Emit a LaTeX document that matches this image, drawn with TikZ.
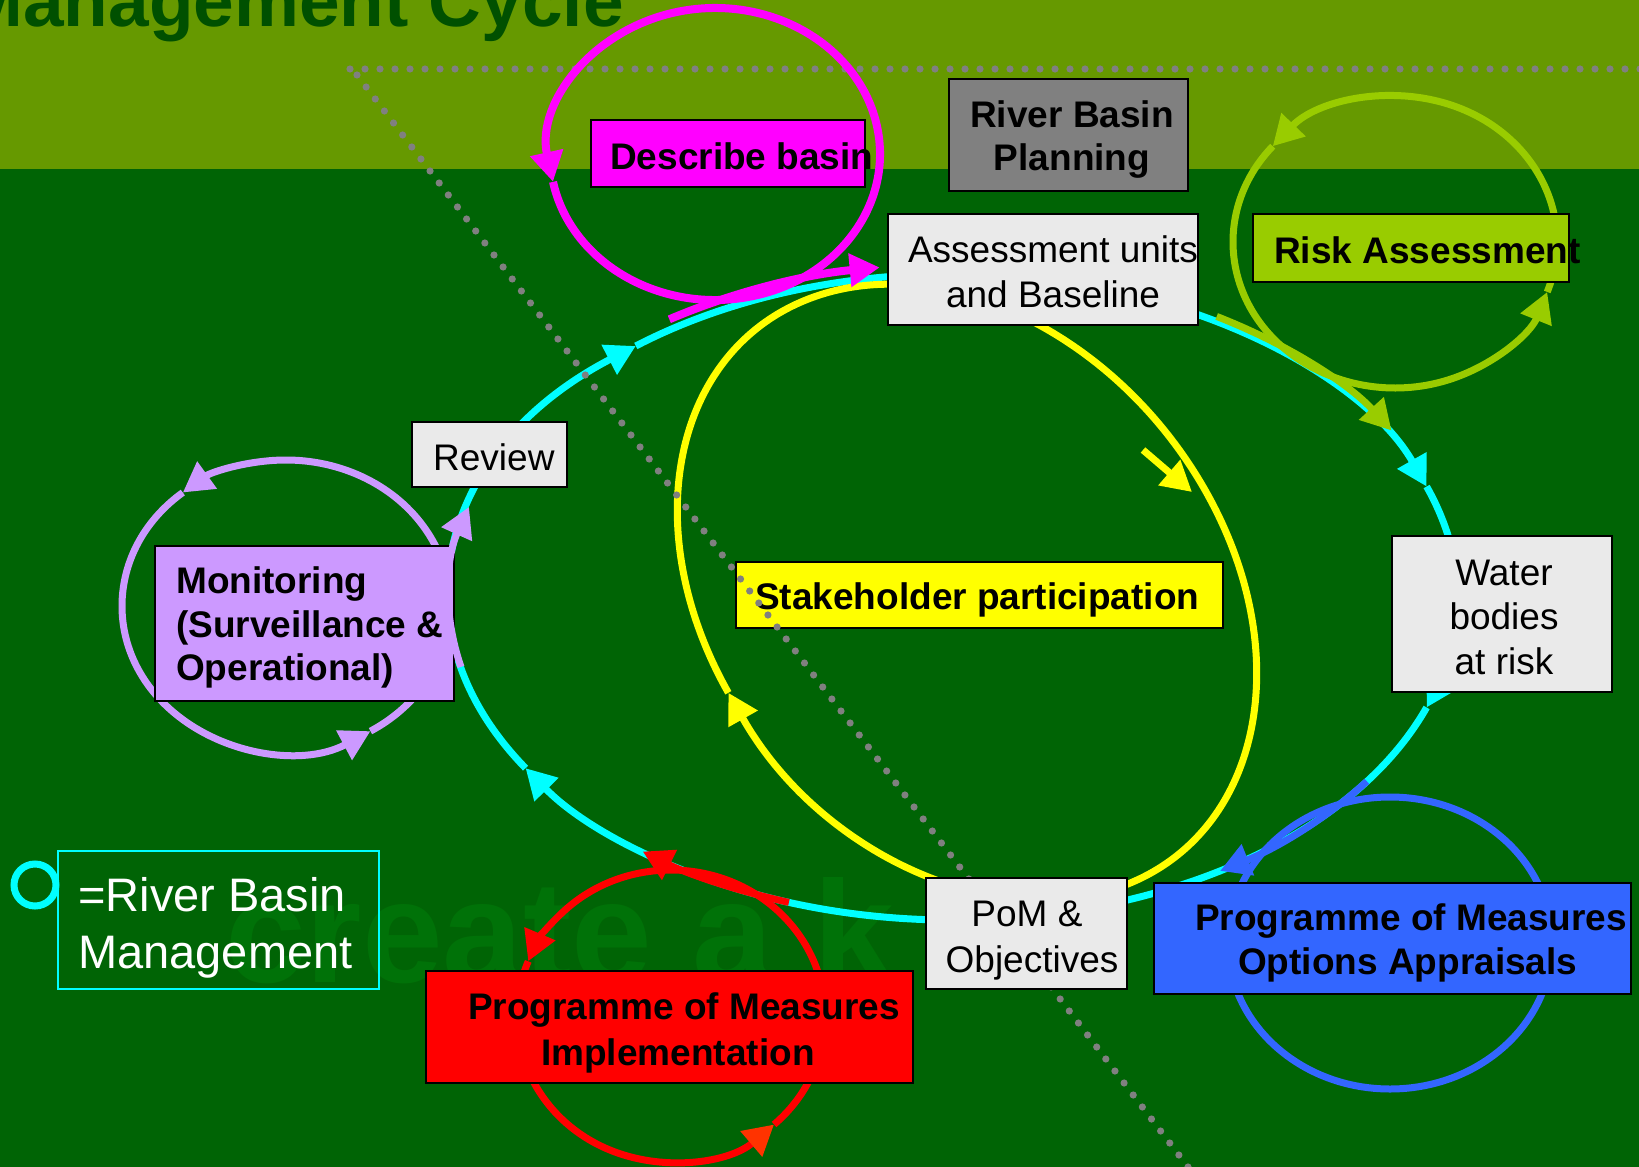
\documentclass[tikz,border=0pt]{standalone}
\usepackage{fontspec}
\setmainfont{Liberation Sans}
\usetikzlibrary{arrows.meta}
\definecolor{bgdark}{RGB}{0,100,5}
\definecolor{bgtop}{RGB}{102,153,0}
\definecolor{titlegreen}{RGB}{0,80,0}
\definecolor{wmgreen}{RGB}{0,114,8}
\definecolor{cyanc}{RGB}{0,255,255}
\definecolor{magc}{RGB}{255,0,255}
\definecolor{yelc}{RGB}{255,255,0}
\definecolor{purc}{RGB}{204,153,255}
\definecolor{redc}{RGB}{255,0,0}
\definecolor{orc}{RGB}{255,51,0}
\definecolor{grnc}{RGB}{153,204,0}
\definecolor{bluec}{RGB}{51,102,255}
\definecolor{lgrey}{RGB}{234,234,234}
\definecolor{mgrey}{RGB}{128,128,128}
\newcommand\loopseg[6]{\draw[#1] (#2) ++(#5:#3pt and #4pt) arc[start angle=#5,end angle=#6,x radius=#3pt,y radius=#4pt];}
\tikzset{
 loopline/.style={line width=7pt},
 tipend/.style={-{Triangle[length=30pt,width=32pt]}},
 box/.style={draw=black, line width=1.8pt, inner sep=0pt, anchor=north west},
 reg/.style={font=\fontsize{37}{44}\selectfont, inner sep=0pt, text=black},
 bld/.style={font=\fontsize{37}{44}\selectfont\bfseries, inner sep=0pt, text=black},
 dotmark/.style={fill=mgrey},
}
\begin{document}
\begin{tikzpicture}[x=1pt,y=-1pt]
\useasboundingbox (0,0) rectangle (1639,1167);
\fill[bgdark] (0,0) rectangle (1639,1167);
\fill[bgtop] (0,0) rectangle (1639,169);
\node[font=\fontsize{73}{80}\selectfont\bfseries, text=titlegreen, inner sep=0pt, anchor=base east] (title) at (624,27) {Management Cycle};
\node[font=\fontsize{145}{150}\selectfont\bfseries, text=wmgreen, inner sep=0pt, anchor=base west] (wm) at (225,982) {create a k};

% centres
\coordinate (cyc) at (953,597);
\coordinate (yec) at (967,592);
\coordinate (mgc) at (715,154);
\coordinate (grc) at (1395,242);
\coordinate (blc) at (1390,943);
\coordinate (rdc) at (671,1016);
\coordinate (puc) at (286,606);

% main cycle (cyan)
\loopseg{cyanc,loopline,tipend}{cyc}{504}{323}{212}{129}
\loopseg{cyanc,loopline,tipend}{cyc}{504}{323}{129}{20}
\loopseg{cyanc,loopline,tipend}{cyc}{504}{323}{20}{-20}
\loopseg{cyanc,loopline,tipend}{cyc}{504}{323}{-20}{-148}

% stakeholder loop (yellow)
\loopseg{yelc,loopline,tipend,rotate around={-51.4:(yec)}}{yec}{337}{255}{618}{258}
\coordinate (ya1) at (1143,450);
\coordinate (ya2) at (1192,492);
\draw[yelc,loopline,tipend] (ya1) -- (ya2);

% risk loop (green)
\loopseg{grnc,loopline,tipend}{grc}{162}{146}{-20}{139}
\loopseg{grnc,loopline,tipend}{grc}{162}{146}{139}{340}
\loopseg{grnc,loopline,tipend}{cyc}{509}{328}{58.8}{30.5}

% options appraisal loop (blue)
\draw[bluec,loopline] (blc) ellipse [x radius=162pt, y radius=146pt];
\loopseg{bluec,loopline,tipend}{cyc}{504}{323}{-34.8}{-58}

% implementation loop (red)
\loopseg{redc,loopline,tipend}{rdc}{154}{146}{-48}{158}
\loopseg{redc,loopline,-{Triangle[length=30pt,width=32pt,color=orc]}}{rdc}{154}{146}{158}{312}
\loopseg{redc,loopline,tipend}{cyc}{504}{323}{-109}{-128}

% monitoring loop (purple)
\loopseg{purc,loopline,tipend}{puc}{164}{146}{-59}{129}
\loopseg{purc,loopline,tipend}{puc}{164}{146}{129}{301}

% stakeholder box
\node[box, fill=yelc, minimum width=487pt, minimum height=66pt] (stake) at (735,561) {};
\node[bld, anchor=base west] (stake-t) at (755,609) {Stakeholder participation};

% dotted lines
\foreach \i in {0,...,86} \fill[dotmark] (350+15*\i,69) circle[radius=3.6pt];
\foreach \i in {0,...,91} \fill[dotmark] (357+9.132*\i,75+12*\i) circle[radius=3.6pt];

% boxes
\node[box, fill=lgrey, minimum width=310pt, minimum height=111pt] (assess) at (887,213) {};
\node[reg, anchor=base] (assess-t1) at (1053,262) {Assessment units};
\node[reg, anchor=base] (assess-t2) at (1053,307) {and Baseline};

\node[box, fill=mgrey, minimum width=239pt, minimum height=112pt] (rbp) at (948,78) {};
\node[bld, anchor=base] (rbp-t1) at (1072,127) {River Basin};
\node[bld, anchor=base] (rbp-t2) at (1072,170) {Planning};

\node[box, fill=grnc, minimum width=316pt, minimum height=68pt] (risk) at (1252,213) {};
\node[bld, anchor=base west] (risk-t) at (1274,263) {Risk Assessment};

\node[box, fill=lgrey, minimum width=220pt, minimum height=156pt] (water) at (1391,535) {};
\node[reg, anchor=base] (water-t1) at (1504,585) {Water};
\node[reg, anchor=base] (water-t2) at (1504,629) {bodies};
\node[reg, anchor=base] (water-t3) at (1504,674) {at risk};

\node[box, fill=lgrey, minimum width=201pt, minimum height=111pt] (pom) at (925,877) {};
\node[reg, anchor=base] (pom-t1) at (1027,926) {PoM \&};
\node[reg, anchor=base] (pom-t2) at (1032,972) {Objectives};

\node[box, fill=bluec, minimum width=477pt, minimum height=111pt] (opt) at (1153,882) {};
\node[bld, anchor=base west] (opt-t1) at (1195,930) {Programme of Measures};
\node[bld, anchor=base west] (opt-t2) at (1238,974) {Options Appraisals};

\node[box, fill=redc, minimum width=487pt, minimum height=112pt] (impl) at (425,970) {};
\node[bld, anchor=base west] (impl-t1) at (468,1019) {Programme of Measures};
\node[bld, anchor=base west] (impl-t2) at (541,1065) {Implementation};

\node[box, fill=purc, minimum width=299pt, minimum height=155pt] (mon) at (154,545) {};
\node[bld, anchor=base west] (mon-t1) at (176,593) {Monitoring};
\node[bld, anchor=base west] (mon-t2) at (176,637) {(Surveillance \&};
\node[bld, anchor=base west] (mon-t3) at (176,680) {Operational)};
\loopseg{purc,loopline,tipend}{cyc}{504}{323}{192.5}{163.8}

\node[box, fill=lgrey, minimum width=155pt, minimum height=65pt] (review) at (411,421) {};
\node[reg, anchor=base west] (review-t) at (433,470) {Review};

\node[box, fill=magc, minimum width=274pt, minimum height=67pt] (desc) at (590,119) {};
\node[bld, anchor=base west] (desc-t) at (610,169) {Describe basin};

% describe basin loop (magenta)
\loopseg{magc,line width=8pt,tipend}{mgc}{165}{146}{-169}{191}
\loopseg{magc,line width=8pt,tipend}{cyc}{514}{333}{123.5}{98.2}

% legend
\coordinate (legc) at (35,885);
\draw[cyanc, line width=7pt] (legc) circle [radius=21pt];
\node[draw=cyanc, line width=2pt, anchor=north west, inner sep=0pt, minimum width=321pt, minimum height=138pt] (leg) at (57,850) {};
\node[font=\fontsize{47}{56}\selectfont, text=white, inner sep=0pt, anchor=base west] (leg-t1) at (78,911) {=River Basin};
\node[font=\fontsize{47}{56}\selectfont, text=white, inner sep=0pt, anchor=base west] (leg-t2) at (78,968) {Management};
\end{tikzpicture}
\end{document}
